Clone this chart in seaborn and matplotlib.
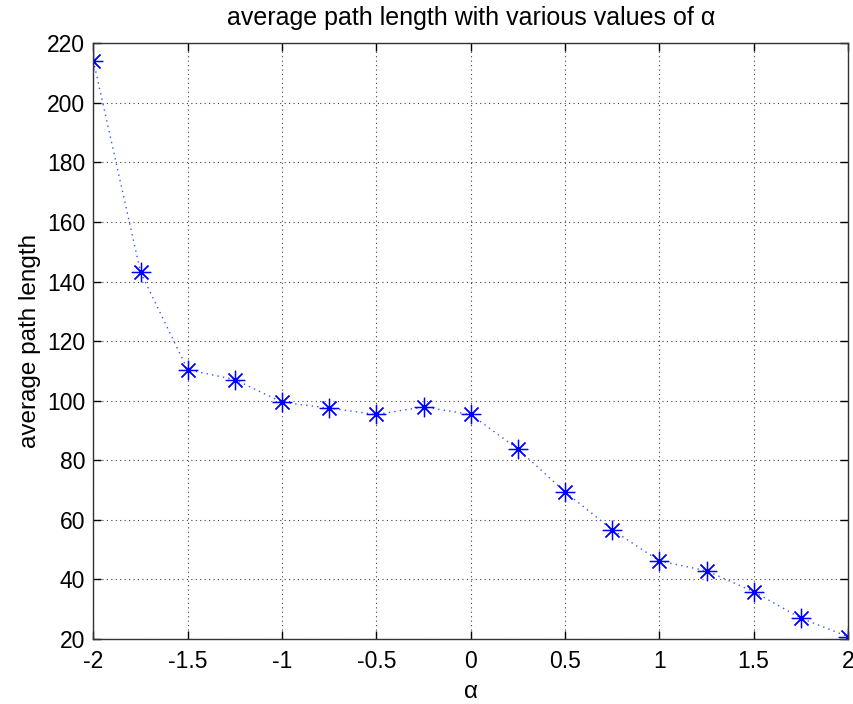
import matplotlib
matplotlib.use("Agg")
import matplotlib.pyplot as plt
import seaborn as sns
import pandas as pd

# alpha values and measured average path lengths
alpha = [-2.0, -1.75, -1.5, -1.25, -1.0, -0.75, -0.5, -0.25, 0.0,
         0.25, 0.5, 0.75, 1.0, 1.25, 1.5, 1.75, 2.0]
avg_path_length = [214.2, 143.2, 110.4, 107.1, 99.5, 97.5, 95.4, 97.9, 95.4,
                   83.8, 69.4, 56.7, 46.2, 42.9, 35.9, 27.0, 20.8]
x_ticks = [-2, -1.5, -1, -0.5, 0, 0.5, 1, 1.5, 2]
x_tick_labels = ["-2", "-1.5", "-1", "-0.5", "0", "0.5", "1", "1.5", "2"]
y_ticks = [20, 40, 60, 80, 100, 120, 140, 160, 180, 200, 220]

df = pd.DataFrame({"alpha": alpha, "apl": avg_path_length})

sns.set_theme(style="white")
plt.rcParams["font.family"] = ["Liberation Sans", "DejaVu Sans"]
plt.rcParams["text.color"] = "black"
plt.rcParams["axes.labelcolor"] = "black"

fig = plt.figure(figsize=(8.54, 7.04), dpi=100)
ax = fig.add_axes([0.1093, 0.0923, 0.8837, 0.8462])

sns.lineplot(data=df, x="alpha", y="apl", ax=ax, color="#3355ff",
             linestyle=(0, (1, 3)), linewidth=1.0, marker=(8, 2, 0),
             markersize=14, markeredgewidth=0.9, markeredgecolor="#0000ff",
             markerfacecolor="#0000ff",
             estimator=None, sort=False)

ax.set_xlim(-2, 2)
ax.set_ylim(20, 220)
ax.set_xticks(x_ticks)
ax.set_xticklabels(x_tick_labels)
ax.set_yticks(y_ticks)

ax.grid(True, linestyle=(0, (1, 3)), color="black", linewidth=0.8, alpha=0.75)
ax.tick_params(axis="both", direction="in", length=6, width=1, labelsize=16.5,
               colors="black", top=True, right=True, bottom=True, left=True,
               labeltop=False, labelright=False)
ax.tick_params(axis="x", pad=8)
ax.tick_params(axis="y", pad=6)
for s in ax.spines.values():
    s.set_visible(True)
    s.set_color("#333333")
    s.set_linewidth(1.0)

ax.set_xlabel("α", fontsize=17.5, labelpad=6)
ax.set_ylabel("average path length", fontsize=17.5, labelpad=4)
ax.set_title("average path length with various values of α", fontsize=18, pad=13)

fig.savefig("out.png", dpi=100)
